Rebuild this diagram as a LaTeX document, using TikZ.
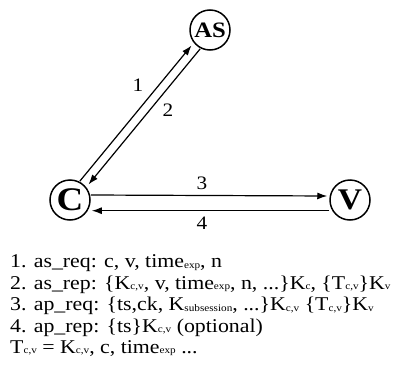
\documentclass[tikz,border=0pt]{standalone}
\usepackage{fontspec}
\setmainfont{Liberation Serif}[FakeStretch=1.12]
\usetikzlibrary{arrows.meta,calc}
\newcommand{\lsub}[1]{\raisebox{-0.1ex}{\fontsize{10}{10}\selectfont #1}}
\begin{document}
\begin{tikzpicture}[x=1pt,y=1pt,
  agent/.style={circle,draw,line width=1.5pt,inner sep=0pt,font=\bfseries},
  msg/.style={-{Latex[length=10pt,width=7pt]},line width=1.2pt},
  num/.style={font=\fontsize{19}{19}\selectfont,inner sep=0pt},
  txt/.style={anchor=base west,inner sep=0pt,font=\fontsize{19.5}{20}\selectfont}]
\useasboundingbox (0,0) rectangle (395,365);
\node[agent,minimum size=40pt,font=\bfseries\fontsize{22}{22}\selectfont] (AS) at (210,335) {AS};
\node[agent,minimum size=40pt,font=\bfseries\fontsize{33}{33}\selectfont] (C) at (70,165) {C};
\node[agent,minimum size=40pt,font=\bfseries\fontsize{30}{30}\selectfont] (V) at (350,165) {V};
\draw[msg,transform canvas={shift={(-3.4pt,2.8pt)}},shorten >=3pt] (C) -- (AS);
\draw[msg,transform canvas={shift={(3.4pt,-2.8pt)}},shorten >=3pt] (AS) -- (C);
\draw[msg,shorten >=2pt] ([yshift=5pt]C.east) -- ([yshift=4pt]V.west);
\draw[msg,shorten >=1pt] ([yshift=-10.7pt]V.west) -- ([yshift=-10.7pt]C.east);
\node[num] (n1) at (138,280) {1};
\node[num] (n2) at (168,255) {2};
\node[num] (n3) at (202,182) {3};
\node[num] (n4) at (202,142) {4};
\node[txt] (l1) at (10,97.5) {1. as\_req: c, v, time\lsub{exp}, n};
\node[txt] (l2) at (10,76) {2. as\_rep: \{K\lsub{c,v}, v, time\lsub{exp}, n, ...\}K\lsub{c}, \{T\lsub{c,v}\}K\lsub{v}};
\node[txt] (l3) at (10,54.5) {3. ap\_req: \{ts,ck, K\lsub{subsession}, ...\}K\lsub{c,v} \{T\lsub{c,v}\}K\lsub{v}};
\node[txt] (l4) at (10,33) {4. ap\_rep: \{ts\}K\lsub{c,v} (optional)};
\node[txt] (l5) at (10,12) {T\lsub{c,v} = K\lsub{c,v}, c, time\lsub{exp} ...};
\end{tikzpicture}
\end{document}
